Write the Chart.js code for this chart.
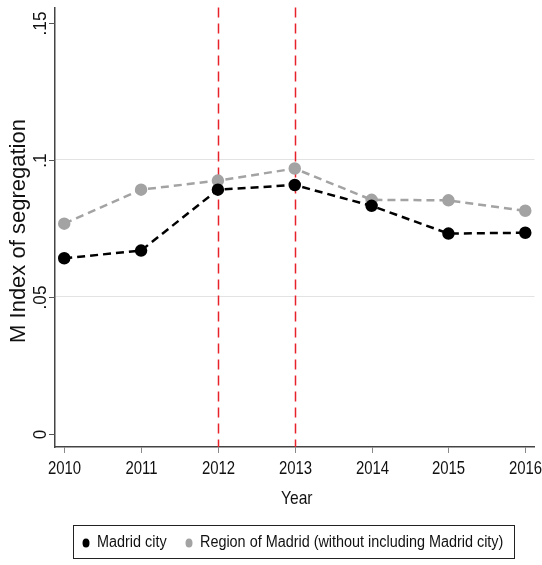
<!DOCTYPE html>
<html>
<head>
<meta charset="utf-8">
<script src="https://cdn.jsdelivr.net/npm/chart.js@4.4.0/dist/chart.umd.min.js"></script>
<style>
  body { margin: 0; background: #fff; }
  #wrap { width: 542px; height: 565px; position: relative; }
</style>
</head>
<body>
<div id="wrap"><canvas id="segChart" width="542" height="565"></canvas></div>
<script>
// Data
const years = [2010, 2011, 2012, 2013, 2014, 2015, 2016];
const madridCity = [0.0641, 0.0669, 0.0891, 0.0908, 0.0832, 0.0731, 0.0734];
const regionMadrid = [0.0767, 0.0891, 0.0924, 0.0968, 0.0854, 0.0852, 0.0814];
const yTicks = [0, 0.05, 0.1, 0.15];
const yTickLabels = ['0', '.05', '.1', '.15'];
const markedYears = [2012, 2013];
const seriesLabels = ['Madrid city', 'Region of Madrid (without including Madrid city)'];

const FONT = '"Liberation Sans", Arial, sans-serif';

// text squeezed horizontally (the original uses a narrow Helvetica)
function narrowText(ctx, text, x, y, sx, rot) {
    ctx.save();
    ctx.translate(x, y);
    if (rot) ctx.rotate(rot);
    ctx.scale(sx, 1);
    ctx.fillText(text, 0, 0);
    ctx.restore();
}

// Draws rotated y labels, tick marks, reference lines, titles and boxed legend
const decorPlugin = {
    id: 'decor',
    beforeDatasetsDraw(chart) {
        const ctx = chart.ctx;
        const x = chart.scales.x;
        const area = chart.chartArea;
        ctx.save();
        ctx.strokeStyle = '#e8212b';
        ctx.lineWidth = 1.5;
        ctx.setLineDash([10, 6]);
        markedYears.forEach(yr => {
            const px = Math.round(x.getPixelForValue(yr)) + 0.5;
            ctx.beginPath();
            ctx.moveTo(px, area.top);
            ctx.lineTo(px, area.bottom);
            ctx.stroke();
        });
        ctx.restore();
    },
    afterDraw(chart) {
        const ctx = chart.ctx;
        const x = chart.scales.x;
        const y = chart.scales.y;
        const area = chart.chartArea;
        ctx.save();

        // y ticks + rotated labels
        ctx.strokeStyle = '#555';
        ctx.lineWidth = 1;
        ctx.fillStyle = '#111';
        ctx.font = '18px ' + FONT;
        ctx.textAlign = 'center';
        ctx.textBaseline = 'alphabetic';
        yTicks.forEach((v, i) => {
            const py = Math.round(y.getPixelForValue(v)) + 0.5;
            ctx.beginPath();
            ctx.moveTo(area.left - 6, py);
            ctx.lineTo(area.left, py);
            ctx.stroke();
            narrowText(ctx, yTickLabels[i], area.left - 9, py, 0.95, -Math.PI / 2);
        });

        // x ticks + labels
        ctx.strokeStyle = '#888';
        years.forEach(yr => {
            const px = Math.round(x.getPixelForValue(yr)) + 0.5;
            ctx.beginPath();
            ctx.moveTo(px, area.bottom);
            ctx.lineTo(px, area.bottom + 6);
            ctx.stroke();
            narrowText(ctx, String(yr), px, area.bottom + 27, 0.83);
        });

        // axis titles
        ctx.font = '19px ' + FONT;
        narrowText(ctx, 'Year', (area.left + area.right) / 2 + 2, 504, 0.82);
        ctx.font = '22px ' + FONT;
        narrowText(ctx, 'M Index of segregation', 25, 231, 1.0, -Math.PI / 2);

        // legend box
        ctx.strokeStyle = '#222';
        ctx.lineWidth = 1;
        ctx.strokeRect(73.5, 525.5, 441, 33);
        ctx.font = '16px ' + FONT;
        ctx.textAlign = 'left';
        ctx.textBaseline = 'middle';
        const ly = 543;
        const cols = [chart.data.datasets[0].pointBackgroundColor, chart.data.datasets[1].pointBackgroundColor];
        const lx = [86, 189];
        seriesLabels.forEach((lab, i) => {
            ctx.fillStyle = cols[i];
            ctx.beginPath();
            ctx.ellipse(lx[i], ly, 3.5, 4.5, 0, 0, Math.PI * 2);
            ctx.fill();
            ctx.fillStyle = '#111';
            narrowText(ctx, lab, lx[i] + 11, ly, 0.9);
        });
        ctx.restore();
    }
};

const ctx = document.getElementById('segChart').getContext('2d');
new Chart(ctx, {
    type: 'line',
    data: {
        datasets: [{
            label: seriesLabels[0],
            data: years.map((yr, i) => ({ x: yr, y: madridCity[i] })),
            borderColor: '#000',
            pointBackgroundColor: '#000',
            pointBorderColor: '#000',
            borderWidth: 2.5,
            borderDash: [8, 5],
            pointRadius: 5,
            tension: 0
        },
        {
            label: seriesLabels[1],
            data: years.map((yr, i) => ({ x: yr, y: regionMadrid[i] })),
            borderColor: '#a3a3a3',
            pointBackgroundColor: '#a3a3a3',
            pointBorderColor: '#a3a3a3',
            borderWidth: 2.5,
            borderDash: [8, 5],
            pointRadius: 5,
            tension: 0
        }]
    },
    options: {
        responsive: false,
        animation: false,
        devicePixelRatio: 1,
        layout: { padding: { left: 55, right: 7, top: 5, bottom: 118 } },
        plugins: { legend: { display: false }, tooltip: { enabled: false } },
        scales: {
            x: {
                type: 'linear',
                min: 2009.88,
                max: 2016.12,
                grid: { display: false, drawTicks: false },
                border: { display: true, color: '#444', width: 1.5 },
                ticks: { display: false }
            },
            y: {
                min: -0.0047,
                max: 0.1555,
                afterBuildTicks(scale) {
                    scale.ticks = yTicks.map(v => ({ value: v }));
                },
                grid: {
                    drawTicks: false,
                    color: c => (c.tick && c.tick.value > 0 && c.tick.value < 0.12 ? '#e3e3e3' : 'rgba(0,0,0,0)'),
                    lineWidth: 1
                },
                border: { display: true, color: '#444', width: 1.5 },
                ticks: { display: false }
            }
        }
    },
    plugins: [decorPlugin]
});
</script>
</body>
</html>
